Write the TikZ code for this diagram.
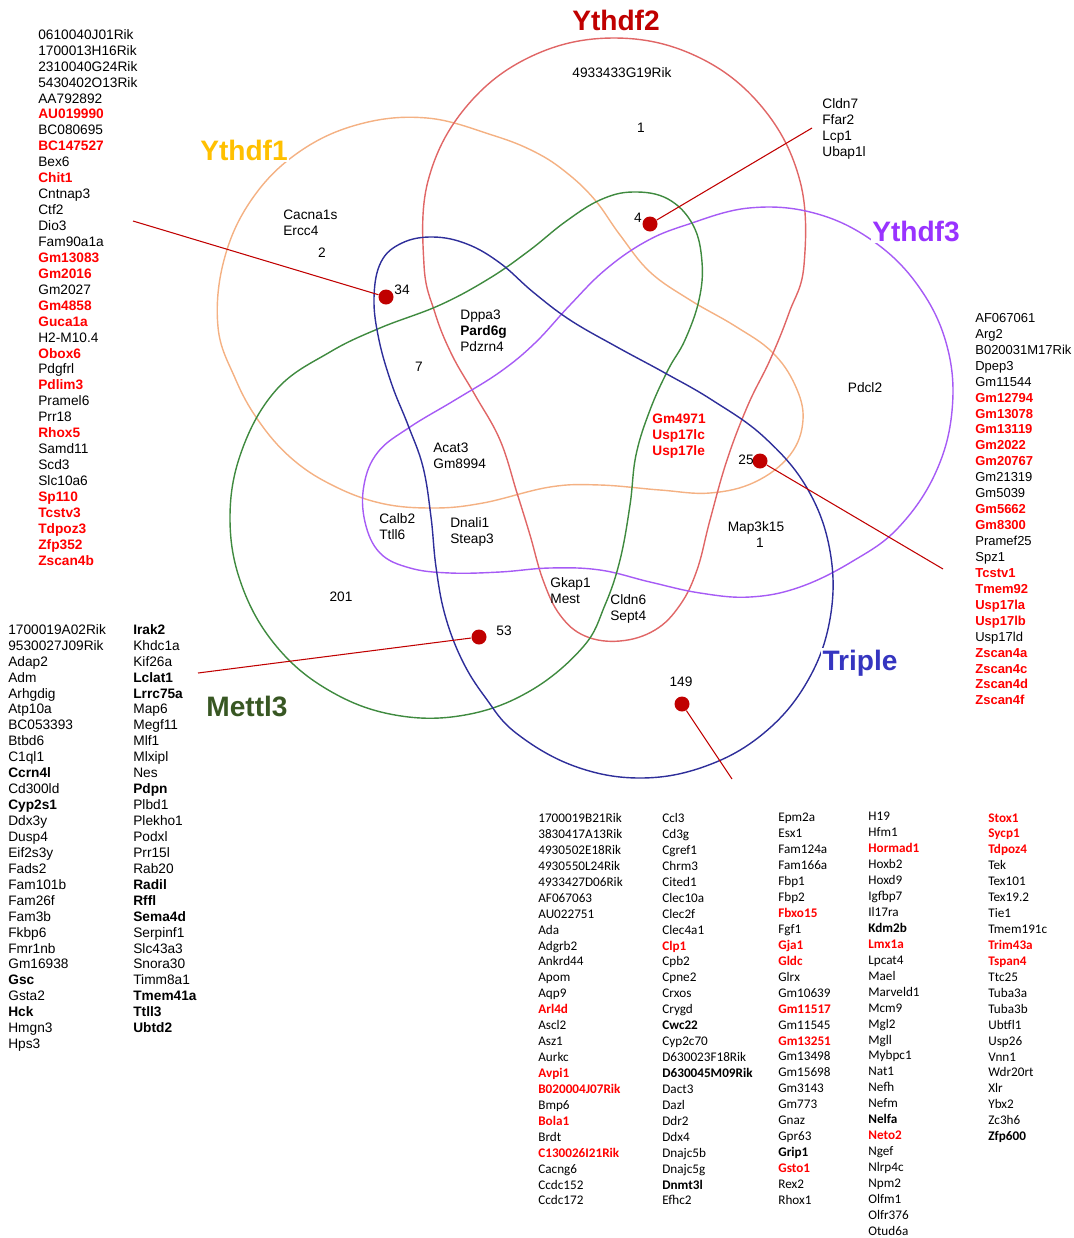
\documentclass[tikz,border=0pt]{standalone}
\usepackage{fontspec}
\setmainfont{Liberation Sans}
\newfontfamily\carlitofont{Carlito}
\usetikzlibrary{positioning}
\definecolor{ythonecol}{HTML}{FFC000}
\definecolor{ythoneline}{HTML}{F4B183}
\definecolor{ythtwocol}{HTML}{C00000}
\definecolor{ythtwoline}{HTML}{E06666}
\definecolor{ththreecol}{HTML}{9933FF}
\definecolor{ththreeline}{HTML}{A65BF5}
\definecolor{triplecol}{HTML}{3535C0}
\definecolor{tripleline}{HTML}{2E2E9A}
\definecolor{mettlcol}{HTML}{385723}
\definecolor{mettlline}{HTML}{3F8A3F}
\definecolor{dotred}{HTML}{C00000}
\definecolor{genered}{HTML}{FF0000}
\newcommand{\genefont}{\fontsize{7.8}{9.07}\selectfont}
\newcommand{\tabfont}{\carlitofont\fontsize{7.5}{9.07}\selectfont}
\newcommand{\rg}[1]{\textcolor{genered}{\textbf{#1}}}
\tikzset{
  setline/.style={line width=0.8pt, draw=#1},
  title/.style={font=\fontsize{16}{18}\selectfont\bfseries, text=#1, fill=white, inner sep=1pt},
  genes/.style={font=\genefont, align=left, anchor=north west, inner sep=0pt},
  tabgenes/.style={font=\tabfont, align=left, anchor=north west, inner sep=0pt},
  count/.style={font=\genefont, inner sep=0pt},
  dot/.style={circle, fill=dotred, inner sep=0pt, minimum size=15*0.02cm},
  callout/.style={draw=dotred, line width=0.6pt},
}
\begin{document}
\begin{tikzpicture}[x=0.02cm,y=-0.02cm]
  \useasboundingbox (0,0) rectangle (1073,1238);
  % set outlines
  \draw[setline=ythoneline] plot[smooth cycle,tension=0.65] coordinates {(492,135) (427,118) (360,124) (299,152) (252,199) (224,260) (218,327) (235,378) (258,420) (290,457) (330,484) (380,503) (433,508) (483,503) (550,487) (600,485) (660,490) (710,493) (755,482) (790,455) (803,420) (795,385) (772,352) (735,326) (690,300) (650,272) (620,235) (595,200) (567,173) (535,152)};
  \draw[setline=ythtwoline] plot[smooth cycle,tension=0.65] coordinates {(424,265) (428,181) (466,107) (532,56) (614,38) (696,56) (762,107) (800,181) (804,265) (789,313) (770,360) (748,405) (727,460) (710,520) (697,570) (680,605) (655,630) (620,641) (585,636) (560,615) (543,580) (530,535) (517,493) (500,440) (475,395) (452,355) (435,313)};
  \draw[setline=ththreeline] plot[smooth cycle,tension=0.65] coordinates {(686,225) (749,208) (814,213) (873,241) (919,287) (947,346) (952,411) (935,474) (898,528) (853,561) (800,587) (750,597) (700,593) (650,582) (600,570) (550,568) (500,572) (450,573) (410,568) (380,553) (365,522) (364,485) (378,452) (410,427) (455,400) (500,372) (535,343) (570,305) (605,270) (645,242)};
  \draw[setline=mettlline] plot[smooth cycle,tension=0.65] coordinates {(277,389) (242,450) (230,518) (242,586) (277,647) (330,691) (395,715) (465,715) (530,691) (583,647) (605,605) (620,560) (630,505) (636,455) (650,410) (668,370) (685,340) (699,300) (702,262) (693,225) (668,199) (633,192) (600,200) (565,222) (530,250) (490,278) (440,305) (380,328) (330,352)};
  \draw[setline=tripleline] plot[smooth cycle,tension=0.65] coordinates {(764,437) (807,488) (830,551) (830,619) (807,682) (764,733) (706,766) (640,778) (574,766) (516,733) (485,697) (462,660) (445,615) (436,567) (431,517) (423,467) (408,425) (392,385) (379,340) (374,298) (381,262) (402,243) (433,237) (467,244) (500,263) (533,292) (570,320) (617,347) (665,373) (712,400)};
  % set titles
  \node[title=ythtwocol] (tYthdfTwo) at (616,20) {Ythdf2};
  \node[title=ythonecol] (tYthdfOne) at (244,150) {Ythdf1};
  \node[title=ththreecol] (tYthdfThree) at (916,231) {Ythdf3};
  \node[title=triplecol] (tTriple) at (860,663) {Triple};
  \node[title=mettlcol] (tMettl) at (247,706) {Mettl3};
  % callouts
  \node[dot] (d34) at (386,297) {};
  \node[dot] (d4) at (650,224) {};
  \node[dot] (d25) at (760,461) {};
  \node[dot] (d53) at (479,637) {};
  \node[dot] (d149) at (682,704) {};
  \coordinate (e34) at (133,221);
  \coordinate (e4) at (812,128);
  \coordinate (e25) at (943,569);
  \coordinate (e53) at (198,673);
  \coordinate (e149) at (732,779);
  \foreach \d in {34,4,25,53,149}{\draw[callout] (d\d) -- (e\d);}
  % counts
  \node[count] (n34) at (402,290) {34};
  \node[count] (n4) at (638,218) {4};
  \node[count] (n25) at (746,460) {25};
  \node[count] (n53) at (504,631) {53};
  \node[count] (n149) at (681,682) {149};
  \node[count] (n201) at (341,597) {201};
  \node[count] (n7) at (419,367) {7};
  \node[count] (nTwo) at (322,253) {2};
  \node[count] (nOneA) at (641,128) {1};
  \node[count] (nOneB) at (760,543) {1};
  % genes inside the regions
  \node[genes,anchor=north] (gTop) at (622,67) {4933433G19Rik};
  \node[genes] (gCacna) at (283,210) {Cacna1s\\Ercc4};
  \node[genes] (gCldnSeven) at (822,98) {Cldn7\\Ffar2\\Lcp1\\Ubap1l};
  \node[genes] (gDppa) at (460,310) {Dppa3\\\textbf{Pard6g}\\Pdzrn4};
  \node[genes,anchor=north] (gPdcl) at (865,382) {Pdcl2};
  \node[genes] (gUsp) at (652,414) {\rg{Gm4971}\\\rg{Usp17lc}\\\rg{Usp17le}};
  \node[genes] (gAcat) at (433,443) {Acat3\\Gm8994};
  \node[genes] (gCalb) at (379,513) {Calb2\\Ttll6};
  \node[genes] (gDnali) at (450,517) {Dnali1\\Steap3};
  \node[genes,anchor=north] (gMap) at (756,521) {Map3k15};
  \node[genes] (gGkap) at (550,577) {Gkap1\\Mest};
  \node[genes] (gCldnSix) at (610,594) {Cldn6\\Sept4};
  % Ythdf1 only
  \node[genes] (lYthdfOne) at (38,29) {0610040J01Rik\\1700013H16Rik\\2310040G24Rik\\5430402O13Rik\\AA792892\\\rg{AU019990}\\BC080695\\\rg{BC147527}\\Bex6\\\rg{Chit1}\\Cntnap3\\Ctf2\\Dio3\\Fam90a1a\\\rg{Gm13083}\\\rg{Gm2016}\\Gm2027\\\rg{Gm4858}\\\rg{Guca1a}\\H2-M10.4\\\rg{Obox6}\\Pdgfrl\\\rg{Pdlim3}\\Pramel6\\Prr18\\\rg{Rhox5}\\Samd11\\Scd3\\Slc10a6\\\rg{Sp110}\\\rg{Tcstv3}\\\rg{Tdpoz3}\\\rg{Zfp352}\\\rg{Zscan4b}};
  % Ythdf1, Ythdf2, Ythdf3, Triple
  \node[genes,font=\fontsize{7.4}{9.07}\selectfont] (lRight) at (975,313) {AF067061\\Arg2\\B020031M17Rik\\Dpep3\\Gm11544\\\rg{Gm12794}\\\rg{Gm13078}\\\rg{Gm13119}\\\rg{Gm2022}\\\rg{Gm20767}\\Gm21319\\Gm5039\\\rg{Gm5662}\\\rg{Gm8300}\\Pramef25\\Spz1\\\rg{Tcstv1}\\\rg{Tmem92}\\\rg{Usp17la}\\\rg{Usp17lb}\\Usp17ld\\\rg{Zscan4a}\\\rg{Zscan4c}\\\rg{Zscan4d}\\\rg{Zscan4f}};
  % Mettl3 and Triple
  \node[genes] (lMettlA) at (8,624) {1700019A02Rik\\9530027J09Rik\\Adap2\\Adm\\Arhgdig\\Atp10a\\BC053393\\Btbd6\\C1ql1\\\textbf{Ccrn4l}\\Cd300ld\\\textbf{Cyp2s1}\\Ddx3y\\Dusp4\\Eif2s3y\\Fads2\\Fam101b\\Fam26f\\Fam3b\\Fkbp6\\Fmr1nb\\Gm16938\\\textbf{Gsc}\\Gsta2\\\textbf{Hck}\\Hmgn3\\Hps3};
  \node[genes] (lMettlB) at (133,624) {\textbf{Irak2}\\Khdc1a\\Kif26a\\\textbf{Lclat1}\\\textbf{Lrrc75a}\\Map6\\Megf11\\Mlf1\\Mlxipl\\Nes\\\textbf{Pdpn}\\Plbd1\\Plekho1\\Podxl\\Prr15l\\Rab20\\\textbf{Radil}\\\textbf{Rffl}\\\textbf{Sema4d}\\Serpinf1\\Slc43a3\\Snora30\\Timm8a1\\\textbf{Tmem41a}\\\textbf{Ttll3}\\\textbf{Ubtd2}};
  % Triple only
  \node[tabgenes] (lTripleA) at (538,813) {1700019B21Rik\\3830417A13Rik\\4930502E18Rik\\4930550L24Rik\\4933427D06Rik\\AF067063\\AU022751\\Ada\\Adgrb2\\Ankrd44\\Apom\\Aqp9\\\rg{Arl4d}\\Ascl2\\Asz1\\Aurkc\\\rg{Avpi1}\\\rg{B020004J07Rik}\\Bmp6\\\rg{Bola1}\\Brdt\\\rg{C130026I21Rik}\\Cacng6\\Ccdc152\\Ccdc172};
  \node[tabgenes] (lTripleB) at (662,813) {Ccl3\\Cd3g\\Cgref1\\Chrm3\\Cited1\\Clec10a\\Clec2f\\Clec4a1\\\rg{Clp1}\\Cpb2\\Cpne2\\Crxos\\Crygd\\\textbf{Cwc22}\\Cyp2c70\\D630023F18Rik\\\textbf{D630045M09Rik}\\Dact3\\Dazl\\Ddr2\\Ddx4\\Dnajc5b\\Dnajc5g\\\textbf{Dnmt3l}\\Efhc2};
  \node[tabgenes] (lTripleC) at (778,813) {Epm2a\\Esx1\\Fam124a\\Fam166a\\Fbp1\\Fbp2\\\rg{Fbxo15}\\Fgf1\\\rg{Gja1}\\\rg{Gldc}\\Glrx\\Gm10639\\\rg{Gm11517}\\Gm11545\\\rg{Gm13251}\\Gm13498\\Gm15698\\Gm3143\\Gm773\\Gnaz\\Gpr63\\\textbf{Grip1}\\\rg{Gsto1}\\Rex2\\Rhox1};
  \node[tabgenes] (lTripleD) at (868,812) {H19\\Hfm1\\\rg{Hormad1}\\Hoxb2\\Hoxd9\\Igfbp7\\Il17ra\\\textbf{Kdm2b}\\\rg{Lmx1a}\\Lpcat4\\Mael\\Marveld1\\Mcm9\\Mgl2\\Mgll\\Mybpc1\\Nat1\\Nefh\\Nefm\\\textbf{Nelfa}\\\rg{Neto2}\\Ngef\\Nlrp4c\\Npm2\\Olfm1\\Olfr376\\Otud6a};
  \node[tabgenes] (lTripleE) at (988,813) {\rg{Stox1}\\\rg{Sycp1}\\\rg{Tdpoz4}\\Tek\\Tex101\\Tex19.2\\Tie1\\Tmem191c\\\rg{Trim43a}\\\rg{Tspan4}\\Ttc25\\Tuba3a\\Tuba3b\\Ubtfl1\\Usp26\\Vnn1\\Wdr20rt\\Xlr\\Ybx2\\Zc3h6\\\textbf{Zfp600}};
\end{tikzpicture}
\end{document}
